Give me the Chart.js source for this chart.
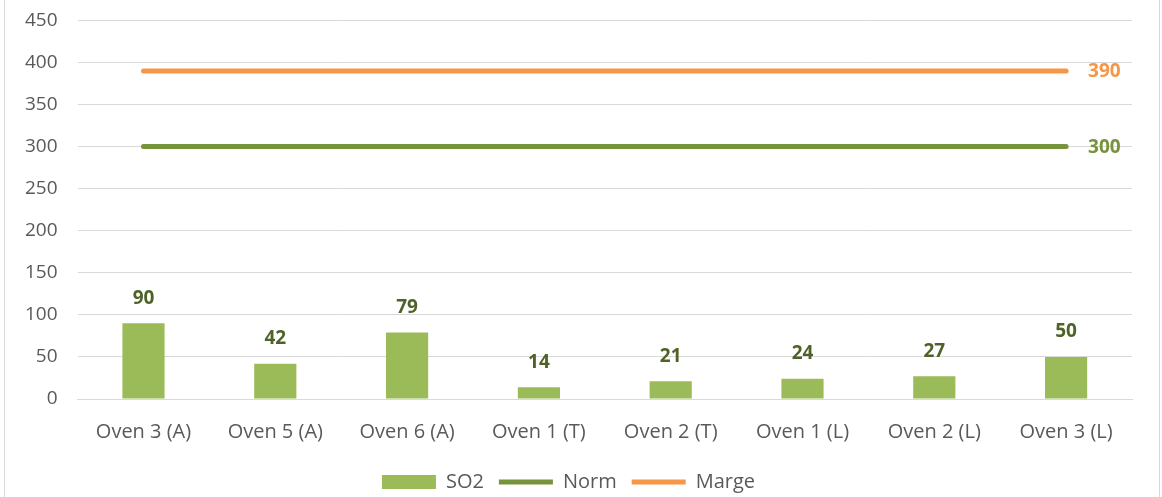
<!DOCTYPE html>
<html>
<head>
<meta charset="utf-8">
<script src="https://cdn.jsdelivr.net/npm/chart.js@4"></script>
<style>
    html, body { margin: 0; padding: 0; background: #fff; overflow: hidden; }
    #frame {
        position: absolute;
        left: 4px;
        top: -2px;
        width: 1154px;
        height: 515px;
        border: 1px solid #d9d9d9;
    }
    #wrap { position: absolute; left: 0; top: -10px; width: 1154px; height: 513px; }
</style>
</head>
<body>
<div id="frame"><div id="wrap"><canvas id="chart"></canvas></div></div>
<script>
// values
const categories = ['Oven 3 (A)', 'Oven 5 (A)', 'Oven 6 (A)', 'Oven 1 (T)', 'Oven 2 (T)', 'Oven 1 (L)', 'Oven 2 (L)', 'Oven 3 (L)'];
const so2 = [90, 42, 79, 14, 21, 24, 27, 50];
const norm = [300, 300, 300, 300, 300, 300, 300, 300];
const marge = [390, 390, 390, 390, 390, 390, 390, 390];

const font = "'Open Sans', sans-serif";

// value labels above bars and at the end of each line
const valueLabels = {
    id: 'valueLabels',
    afterDatasetsDraw(chart) {
        const ctx = chart.ctx;
        ctx.save();
        ctx.font = `bold 19px ${font}`;
        chart.data.datasets.forEach((ds, i) => {
            const meta = chart.getDatasetMeta(i);
            if (ds.type === 'bar') {
                ctx.fillStyle = '#4f6228';
                ctx.textAlign = 'center';
                ctx.textBaseline = 'middle';
                meta.data.forEach((el, j) => {
                    ctx.fillText(ds.data[j], el.x, el.y - 25);
                });
            } else {
                const last = meta.data[meta.data.length - 1];
                ctx.fillStyle = ds.labelColor;
                ctx.textAlign = 'left';
                ctx.textBaseline = 'middle';
                ctx.fillText(ds.data[ds.data.length - 1], last.x + 22, last.y + 1);
            }
        });
        ctx.restore();
    }
};

const ctx = document.getElementById('chart').getContext('2d');
new Chart(ctx, {
    data: {
        labels: categories,
        datasets: [
            {
                type: 'bar',
                label: 'SO2',
                data: so2,
                backgroundColor: '#9bbb59',
                borderWidth: 0,
                pointStyle: 'rect',
                categoryPercentage: 1,
                barPercentage: 0.32
            },
            {
                type: 'line',
                label: 'Norm',
                data: norm,
                borderColor: '#77933c',
                backgroundColor: '#77933c',
                borderWidth: 5,
                borderCapStyle: 'round',
                pointRadius: 0,
                pointStyle: 'line',
                labelColor: '#77933c'
            },
            {
                type: 'line',
                label: 'Marge',
                data: marge,
                borderColor: '#f79646',
                backgroundColor: '#f79646',
                borderWidth: 5,
                borderCapStyle: 'round',
                pointRadius: 0,
                pointStyle: 'line',
                labelColor: '#f79646'
            }
        ]
    },
    options: {
        responsive: true,
        maintainAspectRatio: false,
        animation: false,
        layout: { padding: { top: 0, right: 27, left: 0, bottom: 0 } },
        plugins: {
            tooltip: { enabled: false },
            legend: {
                position: 'bottom',
                labels: {
                    usePointStyle: true,
                    pointStyleWidth: 54,
                    boxHeight: 14,
                    padding: 15,
                    color: '#595959',
                    font: { family: font, size: 20 }
                }
            }
        },
        scales: {
            x: {
                grid: { display: false },
                border: { color: '#d9d9d9' },
                ticks: {
                    color: '#595959',
                    padding: 13,
                    font: { family: font, size: 20 }
                }
            },
            y: {
                min: 0,
                max: 450,
                ticks: {
                    stepSize: 50,
                    color: '#595959',
                    padding: 20,
                    font: { family: font, size: 19 }
                },
                grid: { color: '#d9d9d9', drawTicks: false },
                border: { display: false }
            }
        }
    },
    plugins: [valueLabels]
});
</script>
</body>
</html>
